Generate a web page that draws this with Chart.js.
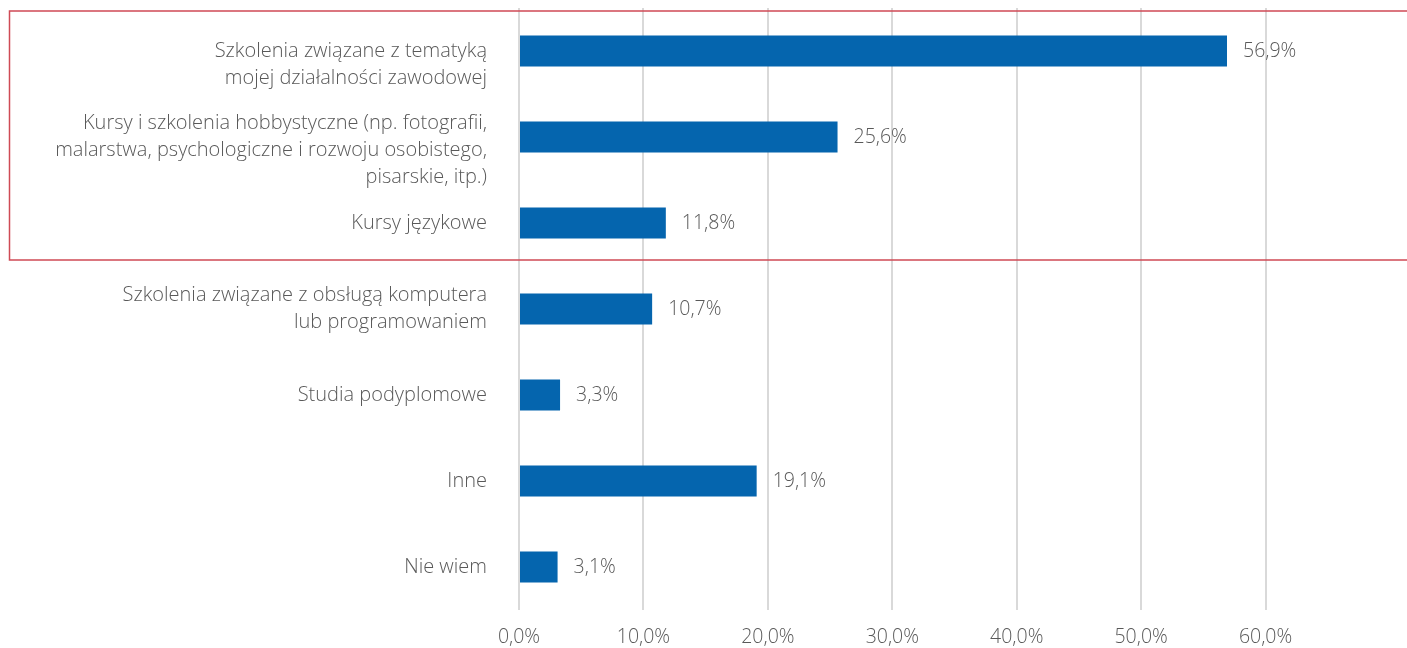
<!DOCTYPE html>
<html><head><meta charset="utf-8">
<script src="https://cdn.jsdelivr.net/npm/chart.js@4"></script>
<style>html,body{margin:0;padding:0;background:#fff}#wrap{width:1407px;height:648px;position:relative}</style>
</head><body><div id="wrap"><canvas id="c"></canvas></div>
<script>
const categories = [
  ['', 'Szkolenia związane z tematyką', 'mojej działalności zawodowej'],
  ['', 'Kursy i szkolenia hobbystyczne (np. fotografii,', 'malarstwa, psychologiczne i rozwoju osobistego,', 'pisarskie, itp.)'],
  'Kursy językowe',
  ['Szkolenia związane z obsługą komputera', 'lub programowaniem'],
  'Studia podyplomowe',
  'Inne',
  'Nie wiem'
];
const values = [56.9, 25.6, 11.8, 10.7, 3.3, 19.1, 3.1];
const xTicks = [0, 10, 20, 30, 40, 50, 60];
const highlighted = 3; // first three categories framed

const FONT = "'Open Sans', sans-serif";
const fmt = v => v.toFixed(1).replace('.', ',') + '%';

const valueLabels = {
  id: 'valueLabels',
  afterDatasetsDraw(chart) {
    const ctx = chart.ctx;
    const meta = chart.getDatasetMeta(0);
    ctx.save();
    ctx.font = "300 19.5px " + FONT;
    ctx.fillStyle = '#595959';
    ctx.textAlign = 'left';
    ctx.textBaseline = 'middle';
    meta.data.forEach((bar, i) => {
      ctx.fillText(fmt(values[i]), bar.x + 16, bar.y);
    });
    ctx.restore();
  }
};

const frame = {
  id: 'frame',
  afterDraw(chart) {
    const y = chart.scales.y;
    const ctx = chart.ctx;
    const top = chart.chartArea.top + 3;
    const bottom = (y.getPixelForValue(highlighted - 1) + y.getPixelForValue(highlighted)) / 2 - 6;
    ctx.save();
    ctx.strokeStyle = '#cf4a55';
    ctx.lineWidth = 1.5;
    ctx.strokeRect(9.5, top, chart.width + 20, bottom - top);
    ctx.restore();
  }
};

new Chart(document.getElementById('c'), {
  type: 'bar',
  data: {
    labels: categories,
    datasets: [{
      data: values,
      backgroundColor: '#0565ae',
      categoryPercentage: 1,
      barPercentage: 0.36
    }]
  },
  options: {
    indexAxis: 'y',
    responsive: true,
    maintainAspectRatio: false,
    animation: false,
    layout: { padding: { top: 8, right: 17, left: 0, bottom: 0 } },
    plugins: { legend: { display: false }, tooltip: { enabled: false } },
    scales: {
      x: {
        min: 0, max: 70,
        afterBuildTicks(s) { s.ticks = xTicks.map(v => ({ value: v })); },
        afterFit(s) { s.height = 38; s.paddingLeft = 0; s.paddingRight = 0; },
        grid: { color: '#d9d9d9', lineWidth: 2, drawTicks: false },
        border: { display: false },
        ticks: {
          padding: 16,
          color: '#595959',
          maxRotation: 0,
          font: { family: FONT, size: 19.5, weight: 300 },
          callback: v => fmt(v)
        }
      },
      y: {
        grid: { display: false },
        border: { display: false },
        afterFit(s) { s.width = 519; s.paddingTop = 0; s.paddingBottom = 0; },
        ticks: {
          autoSkip: false,
          padding: 24,
          color: '#595959',
          font: { family: FONT, size: 20, weight: 300, lineHeight: 1.35 }
        }
      }
    }
  },
  plugins: [valueLabels, frame]
});
</script></body></html>
